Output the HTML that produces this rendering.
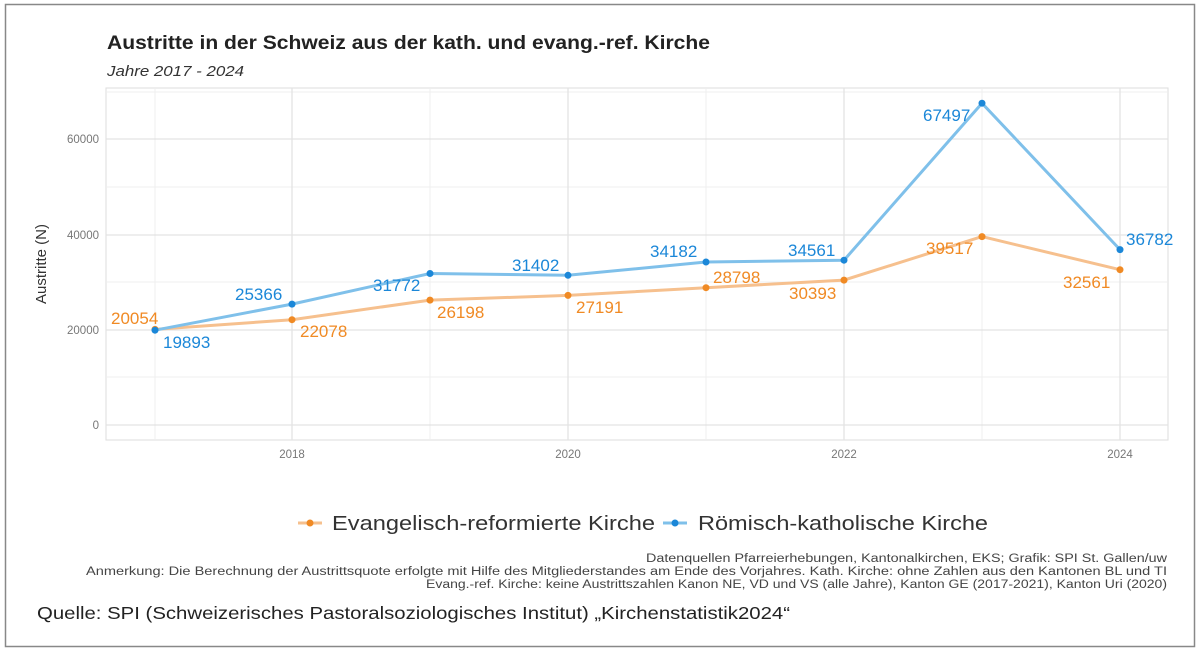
<!DOCTYPE html>
<html><head><meta charset="utf-8"><style>
body{margin:0;background:#fff;}
svg text{font-family:"Liberation Sans",sans-serif;}
</style></head><body>
<svg width="1200" height="656" viewBox="0 0 1200 656" xmlns="http://www.w3.org/2000/svg">
<rect x="0" y="0" width="1200" height="656" fill="#fff"/>
<rect x="5.5" y="4.5" width="1189" height="642" fill="none" stroke="#888" stroke-width="1.5"/>
<text x="107" y="49" font-size="19" font-weight="bold" fill="#222" textLength="603" lengthAdjust="spacingAndGlyphs">Austritte in der Schweiz aus der kath. und evang.-ref. Kirche</text>
<text x="107" y="76" font-size="15" font-style="italic" fill="#333" textLength="137" lengthAdjust="spacingAndGlyphs">Jahre 2017 - 2024</text>
<rect x="106" y="88" width="1062" height="352" fill="#fff" stroke="#ddd"/>
<g stroke="#efefef" stroke-width="1">
<line x1="106" x2="1168" y1="377" y2="377"/><line x1="106" x2="1168" y1="282" y2="282"/><line x1="106" x2="1168" y1="187" y2="187"/><line x1="106" x2="1168" y1="92" y2="92"/>
<line y1="88" y2="440" x1="155" x2="155"/><line y1="88" y2="440" x1="430" x2="430"/><line y1="88" y2="440" x1="706" x2="706"/><line y1="88" y2="440" x1="982" x2="982"/>
</g>
<g stroke="#e3e3e3" stroke-width="1.3">
<line x1="106" x2="1168" y1="425" y2="425"/><line x1="106" x2="1168" y1="330" y2="330"/><line x1="106" x2="1168" y1="235" y2="235"/><line x1="106" x2="1168" y1="139" y2="139"/>
<line y1="88" y2="440" x1="292" x2="292"/><line y1="88" y2="440" x1="568" x2="568"/><line y1="88" y2="440" x1="844" x2="844"/><line y1="88" y2="440" x1="1120" x2="1120"/>
</g>
<g font-size="11.5" fill="#777" text-anchor="end">
<text x="99" y="429">0</text><text x="99" y="334">20000</text><text x="99" y="239">40000</text><text x="99" y="143">60000</text>
</g>
<g font-size="11.5" fill="#777" text-anchor="middle">
<text x="292" y="458">2018</text><text x="568" y="458">2020</text><text x="844" y="458">2022</text><text x="1120" y="458">2024</text>
</g>
<text transform="translate(46,264) rotate(-90)" font-size="15" fill="#333" text-anchor="middle">Austritte (N)</text>
<polyline fill="none" stroke="#f6c08e" stroke-width="3" points="155,329.4 292,319.7 430,300.1 568,295.4 706,287.7 844,280.1 982,236.6 1120,269.7"/>
<polyline fill="none" stroke="#7fc0ea" stroke-width="3" points="155,330.2 292,304.1 430,273.5 568,275.3 706,262.0 844,260.2 982,103.2 1120,249.6"/>
<g fill="#f08a24">
<circle cx="155" cy="329.4" r="3.5"/><circle cx="292" cy="319.7" r="3.5"/><circle cx="430" cy="300.1" r="3.5"/><circle cx="568" cy="295.4" r="3.5"/><circle cx="706" cy="287.7" r="3.5"/><circle cx="844" cy="280.1" r="3.5"/><circle cx="982" cy="236.6" r="3.5"/><circle cx="1120" cy="269.7" r="3.5"/>
</g>
<g fill="#1b87d8">
<circle cx="155" cy="330.2" r="3.5"/><circle cx="292" cy="304.1" r="3.5"/><circle cx="430" cy="273.5" r="3.5"/><circle cx="568" cy="275.3" r="3.5"/><circle cx="706" cy="262.0" r="3.5"/><circle cx="844" cy="260.2" r="3.5"/><circle cx="982" cy="103.2" r="3.5"/><circle cx="1120" cy="249.6" r="3.5"/>
</g>
<g font-size="17" fill="#f08a24">
<text x="111" y="324">20054</text><text x="300" y="337">22078</text><text x="437" y="318">26198</text><text x="576" y="313">27191</text><text x="713" y="283">28798</text><text x="789" y="299">30393</text><text x="926" y="254">39517</text><text x="1063" y="288">32561</text>
</g>
<g font-size="17" fill="#1b87d8">
<text x="163" y="348">19893</text><text x="235" y="300">25366</text><text x="373" y="291">31772</text><text x="512" y="271">31402</text><text x="650" y="257">34182</text><text x="788" y="256">34561</text><text x="923" y="121">67497</text><text x="1126" y="245">36782</text>
</g>
<line x1="298" x2="322" y1="523" y2="523" stroke="#f6c08e" stroke-width="3"/><circle cx="310" cy="523" r="3.5" fill="#f08a24"/>
<text x="332" y="530" font-size="20" fill="#333" textLength="323" lengthAdjust="spacingAndGlyphs">Evangelisch-reformierte Kirche</text>
<line x1="663" x2="687" y1="523" y2="523" stroke="#7fc0ea" stroke-width="3"/><circle cx="675" cy="523" r="3.5" fill="#1b87d8"/>
<text x="698" y="530" font-size="20" fill="#333" textLength="290" lengthAdjust="spacingAndGlyphs">Römisch-katholische Kirche</text>
<g font-size="11.5" fill="#444">
<text x="646" y="562" textLength="521" lengthAdjust="spacingAndGlyphs">Datenquellen Pfarreierhebungen, Kantonalkirchen, EKS; Grafik: SPI St. Gallen/uw</text>
<text x="86" y="575" textLength="1081" lengthAdjust="spacingAndGlyphs">Anmerkung: Die Berechnung der Austrittsquote erfolgte mit Hilfe des Mitgliederstandes am Ende des Vorjahres. Kath. Kirche: ohne Zahlen aus den Kantonen BL und TI</text>
<text x="426" y="588" textLength="741" lengthAdjust="spacingAndGlyphs">Evang.-ref. Kirche: keine Austrittszahlen Kanon NE, VD und VS (alle Jahre), Kanton GE (2017-2021), Kanton Uri (2020)</text>
</g>
<text x="37" y="619" font-size="17.5" fill="#222" textLength="753" lengthAdjust="spacingAndGlyphs">Quelle: SPI (Schweizerisches Pastoralsoziologisches Institut) „Kirchenstatistik2024“</text>
</svg>
</body></html>
